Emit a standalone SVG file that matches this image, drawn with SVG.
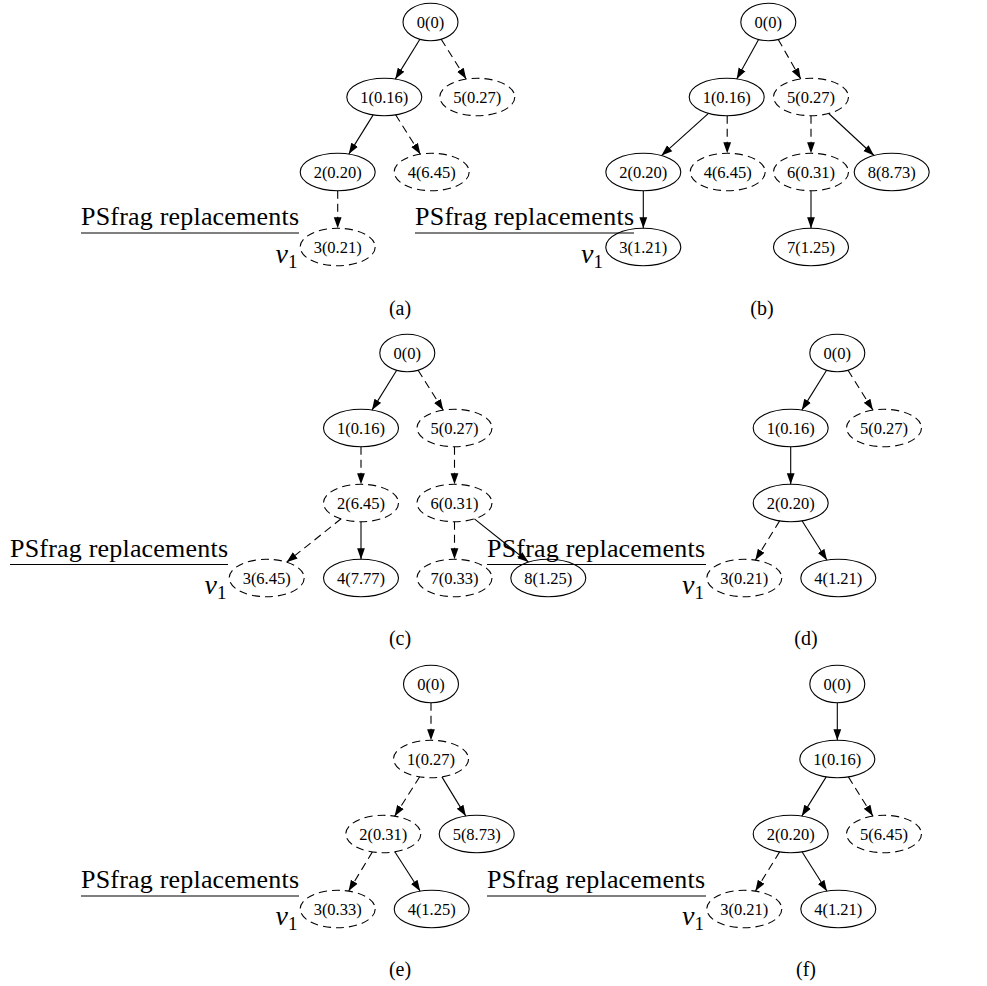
<svg xmlns="http://www.w3.org/2000/svg" width="987" height="986" viewBox="0 0 987 986">
  <defs>
    <marker id="ah" markerUnits="userSpaceOnUse" markerWidth="12" markerHeight="9" refX="11" refY="4.5" orient="auto">
      <path d="M0,0.6 L11,4.5 L0,8.4 z" fill="#000"/>
    </marker>
  </defs>
  <style>
    .n ellipse { fill: none; stroke: #000; stroke-width: 1.1; }
    .n.d ellipse { stroke-dasharray: 8 5; }
    .n text { font-family: "Liberation Serif", "Times New Roman", serif; font-size: 16.5px; text-anchor: middle; fill: #000; }
    .e line { stroke: #000; stroke-width: 1.1; marker-end: url(#ah); }
    .e line.d { stroke-dasharray: 8 5; }
    .ps { font-family: "Liberation Serif", "Times New Roman", serif; font-size: 26px; fill: #000; }
    .rule { stroke: #000; stroke-width: 1; }
    .v { font-family: "Liberation Serif", "Times New Roman", serif; font-style: italic; font-size: 28px; text-anchor: end; fill: #000; }
    .v tspan { font-style: normal; font-size: 19px; }
    .cap { font-family: "Liberation Serif", "Times New Roman", serif; font-size: 20px; text-anchor: middle; fill: #000; }
  </style>
  <rect width="987" height="986" fill="#fff"/>

  <!-- connectors -->
  <g id="connectors" class="e">
    <!-- (a) -->
    <line x1="419.9" y1="39.3" x2="395.3" y2="79.1"/>
    <line class="d" x1="441.2" y1="39.2" x2="466.2" y2="79.1"/>
    <line x1="373.2" y1="114.9" x2="348.8" y2="154.1"/>
    <line class="d" x1="395.6" y1="114.8" x2="420.4" y2="154.2"/>
    <line class="d" x1="337.7" y1="190.7" x2="337.7" y2="228.3"/>
    <!-- (b) -->
    <line x1="758.6" y1="39.5" x2="736.7" y2="79.0"/>
    <line class="d" x1="778.2" y1="39.4" x2="800.8" y2="79.0"/>
    <line x1="708.5" y1="113.4" x2="661.5" y2="155.6"/>
    <line class="d" x1="727.2" y1="115.7" x2="727.2" y2="153.3"/>
    <line class="d" x1="811" y1="115.7" x2="811" y2="153.3"/>
    <line x1="828.7" y1="113.5" x2="874.0" y2="155.5"/>
    <line x1="643.3" y1="190.7" x2="643.3" y2="228.3"/>
    <line x1="811" y1="190.7" x2="811" y2="228.3"/>
    <!-- (c) -->
    <line x1="396.7" y1="370.2" x2="372.0" y2="410.1"/>
    <line class="d" x1="418.1" y1="370.2" x2="443.3" y2="410.2"/>
    <line class="d" x1="361" y1="446.7" x2="361" y2="484.3"/>
    <line class="d" x1="454.5" y1="446.7" x2="454.5" y2="484.3"/>
    <line class="d" x1="341.1" y1="518.8" x2="286.6" y2="562.2"/>
    <line x1="361" y1="521.7" x2="361" y2="559.3"/>
    <line class="d" x1="454.5" y1="521.7" x2="454.5" y2="559.3"/>
    <line x1="474.4" y1="518.9" x2="528.5" y2="562.1"/>
    <!-- (d) -->
    <line x1="826.6" y1="370.2" x2="801.8" y2="410.1"/>
    <line class="d" x1="848.0" y1="370.2" x2="872.9" y2="410.1"/>
    <line x1="790.7" y1="446.7" x2="790.7" y2="484.3"/>
    <line class="d" x1="779.6" y1="520.9" x2="755.4" y2="560.1"/>
    <line x1="802.0" y1="520.8" x2="827.0" y2="560.2"/>
    <!-- (e) -->
    <line class="d" x1="431" y1="702.7" x2="431" y2="740.3"/>
    <line class="d" x1="419.7" y1="776.8" x2="394.6" y2="816.2"/>
    <line x1="441.9" y1="776.9" x2="465.8" y2="816.1"/>
    <line class="d" x1="372.4" y1="851.9" x2="348.6" y2="891.1"/>
    <line x1="394.8" y1="851.8" x2="420.2" y2="891.2"/>
    <!-- (f) -->
    <line x1="837.3" y1="702.7" x2="837.3" y2="740.3"/>
    <line x1="826.2" y1="776.9" x2="801.8" y2="816.1"/>
    <line class="d" x1="848.4" y1="776.9" x2="872.9" y2="816.1"/>
    <line class="d" x1="779.6" y1="851.9" x2="755.4" y2="891.1"/>
    <line x1="802.0" y1="851.8" x2="827.0" y2="891.2"/>
  </g>

  <!-- tree (a) -->
  <g id="a-n0" class="n"><ellipse cx="430.5" cy="22" rx="27.5" ry="18.7"/><text x="430.5" y="27.6">0(0)</text></g>
  <g id="a-n1" class="n"><ellipse cx="384.3" cy="97" rx="37.5" ry="18.7"/><text x="384.3" y="102.6">1(0.16)</text></g>
  <g id="a-n5" class="n d"><ellipse cx="477.3" cy="97" rx="37.5" ry="18.7"/><text x="477.3" y="102.6">5(0.27)</text></g>
  <g id="a-n2" class="n"><ellipse cx="337.7" cy="172" rx="37.5" ry="18.7"/><text x="337.7" y="177.6">2(0.20)</text></g>
  <g id="a-n4" class="n d"><ellipse cx="431.7" cy="172" rx="37.5" ry="18.7"/><text x="431.7" y="177.6">4(6.45)</text></g>
  <g id="a-n3" class="n d"><ellipse cx="337.7" cy="247" rx="37.5" ry="18.7"/><text x="337.7" y="252.6">3(0.21)</text></g>

  <!-- tree (b) -->
  <g id="b-n0" class="n"><ellipse cx="768.3" cy="22" rx="27.5" ry="18.7"/><text x="768.3" y="27.6">0(0)</text></g>
  <g id="b-n1" class="n"><ellipse cx="726.7" cy="97" rx="37.5" ry="18.7"/><text x="726.7" y="102.6">1(0.16)</text></g>
  <g id="b-n5" class="n d"><ellipse cx="811" cy="97" rx="37.5" ry="18.7"/><text x="811" y="102.6">5(0.27)</text></g>
  <g id="b-n2" class="n"><ellipse cx="643.3" cy="172" rx="37.5" ry="18.7"/><text x="643.3" y="177.6">2(0.20)</text></g>
  <g id="b-n4" class="n d"><ellipse cx="727.7" cy="172" rx="37.5" ry="18.7"/><text x="727.7" y="177.6">4(6.45)</text></g>
  <g id="b-n6" class="n d"><ellipse cx="811" cy="172" rx="37.5" ry="18.7"/><text x="811" y="177.6">6(0.31)</text></g>
  <g id="b-n8" class="n"><ellipse cx="891.7" cy="172" rx="37.5" ry="18.7"/><text x="891.7" y="177.6">8(8.73)</text></g>
  <g id="b-n3" class="n"><ellipse cx="643.3" cy="247" rx="37.5" ry="18.7"/><text x="643.3" y="252.6">3(1.21)</text></g>
  <g id="b-n7" class="n"><ellipse cx="811" cy="247" rx="37.5" ry="18.7"/><text x="811" y="252.6">7(1.25)</text></g>

  <!-- tree (c) -->
  <g id="c-n0" class="n"><ellipse cx="407.3" cy="353" rx="27.5" ry="18.7"/><text x="407.3" y="358.6">0(0)</text></g>
  <g id="c-n1" class="n"><ellipse cx="361" cy="428" rx="37.5" ry="18.7"/><text x="361" y="433.6">1(0.16)</text></g>
  <g id="c-n5" class="n d"><ellipse cx="454.5" cy="428" rx="37.5" ry="18.7"/><text x="454.5" y="433.6">5(0.27)</text></g>
  <g id="c-n2" class="n d"><ellipse cx="361" cy="503" rx="37.5" ry="18.7"/><text x="361" y="508.6">2(6.45)</text></g>
  <g id="c-n6" class="n d"><ellipse cx="454.5" cy="503" rx="37.5" ry="18.7"/><text x="454.5" y="508.6">6(0.31)</text></g>
  <g id="c-n3" class="n d"><ellipse cx="266.7" cy="578" rx="37.5" ry="18.7"/><text x="266.7" y="583.6">3(6.45)</text></g>
  <g id="c-n4" class="n"><ellipse cx="361" cy="578" rx="37.5" ry="18.7"/><text x="361" y="583.6">4(7.77)</text></g>
  <g id="c-n7" class="n d"><ellipse cx="454.5" cy="578" rx="37.5" ry="18.7"/><text x="454.5" y="583.6">7(0.33)</text></g>
  <g id="c-n8" class="n"><ellipse cx="548.3" cy="578" rx="37.5" ry="18.7"/><text x="548.3" y="583.6">8(1.25)</text></g>

  <!-- tree (d) -->
  <g id="d-n0" class="n"><ellipse cx="837.3" cy="353" rx="27.5" ry="18.7"/><text x="837.3" y="358.6">0(0)</text></g>
  <g id="d-n1" class="n"><ellipse cx="790.7" cy="428" rx="37.5" ry="18.7"/><text x="790.7" y="433.6">1(0.16)</text></g>
  <g id="d-n5" class="n d"><ellipse cx="884" cy="428" rx="37.5" ry="18.7"/><text x="884" y="433.6">5(0.27)</text></g>
  <g id="d-n2" class="n"><ellipse cx="790.7" cy="503" rx="37.5" ry="18.7"/><text x="790.7" y="508.6">2(0.20)</text></g>
  <g id="d-n3" class="n d"><ellipse cx="744.3" cy="578" rx="37.5" ry="18.7"/><text x="744.3" y="583.6">3(0.21)</text></g>
  <g id="d-n4" class="n"><ellipse cx="838.3" cy="578" rx="37.5" ry="18.7"/><text x="838.3" y="583.6">4(1.21)</text></g>

  <!-- tree (e) -->
  <g id="e-n0" class="n"><ellipse cx="431" cy="684" rx="27.5" ry="18.7"/><text x="431" y="689.6">0(0)</text></g>
  <g id="e-n1" class="n d"><ellipse cx="431" cy="759" rx="37.5" ry="18.7"/><text x="431" y="764.6">1(0.27)</text></g>
  <g id="e-n2" class="n d"><ellipse cx="383.3" cy="834" rx="37.5" ry="18.7"/><text x="383.3" y="839.6">2(0.31)</text></g>
  <g id="e-n5" class="n"><ellipse cx="476.7" cy="834" rx="37.5" ry="18.7"/><text x="476.7" y="839.6">5(8.73)</text></g>
  <g id="e-n3" class="n d"><ellipse cx="337.7" cy="909" rx="37.5" ry="18.7"/><text x="337.7" y="914.6">3(0.33)</text></g>
  <g id="e-n4" class="n"><ellipse cx="431.7" cy="909" rx="37.5" ry="18.7"/><text x="431.7" y="914.6">4(1.25)</text></g>

  <!-- tree (f) -->
  <g id="f-n0" class="n"><ellipse cx="837.3" cy="684" rx="27.5" ry="18.7"/><text x="837.3" y="689.6">0(0)</text></g>
  <g id="f-n1" class="n"><ellipse cx="837.3" cy="759" rx="37.5" ry="18.7"/><text x="837.3" y="764.6">1(0.16)</text></g>
  <g id="f-n2" class="n"><ellipse cx="790.7" cy="834" rx="37.5" ry="18.7"/><text x="790.7" y="839.6">2(0.20)</text></g>
  <g id="f-n5" class="n d"><ellipse cx="884" cy="834" rx="37.5" ry="18.7"/><text x="884" y="839.6">5(6.45)</text></g>
  <g id="f-n3" class="n d"><ellipse cx="744.3" cy="909" rx="37.5" ry="18.7"/><text x="744.3" y="914.6">3(0.21)</text></g>
  <g id="f-n4" class="n"><ellipse cx="838.3" cy="909" rx="37.5" ry="18.7"/><text x="838.3" y="914.6">4(1.21)</text></g>

  <!-- psfrag headings with rules -->
  <g id="psfrag">
    <text class="ps" x="81" y="225" textLength="218" lengthAdjust="spacing">PSfrag replacements</text>
    <line class="rule" x1="81" y1="233" x2="299" y2="233"/>
    <text class="ps" x="415" y="225" textLength="219" lengthAdjust="spacing">PSfrag replacements</text>
    <line class="rule" x1="415" y1="233" x2="634" y2="233"/>
    <text class="ps" x="10" y="556.5" textLength="218" lengthAdjust="spacing">PSfrag replacements</text>
    <line class="rule" x1="10" y1="564.5" x2="228" y2="564.5"/>
    <text class="ps" x="487" y="556.5" textLength="218" lengthAdjust="spacing">PSfrag replacements</text>
    <line class="rule" x1="487" y1="564.5" x2="706" y2="564.5"/>
    <text class="ps" x="81" y="888" textLength="218" lengthAdjust="spacing">PSfrag replacements</text>
    <line class="rule" x1="81" y1="896" x2="299" y2="896"/>
    <text class="ps" x="487" y="888" textLength="218" lengthAdjust="spacing">PSfrag replacements</text>
    <line class="rule" x1="487" y1="896" x2="706" y2="896"/>
  </g>

  <!-- v1 markers -->
  <g id="v1-labels">
    <text class="v" x="297.5" y="263.3">v<tspan dy="4.4">1</tspan></text>
    <text class="v" x="603" y="263.3">v<tspan dy="4.4">1</tspan></text>
    <text class="v" x="226.5" y="594.3">v<tspan dy="4.4">1</tspan></text>
    <text class="v" x="704" y="594.3">v<tspan dy="4.4">1</tspan></text>
    <text class="v" x="297.5" y="925.3">v<tspan dy="4.4">1</tspan></text>
    <text class="v" x="704" y="925.3">v<tspan dy="4.4">1</tspan></text>
  </g>

  <!-- sub-figure captions -->
  <g id="captions">
    <text class="cap" x="400" y="315">(a)</text>
    <text class="cap" x="762" y="315">(b)</text>
    <text class="cap" x="400" y="645">(c)</text>
    <text class="cap" x="806" y="645">(d)</text>
    <text class="cap" x="400" y="976">(e)</text>
    <text class="cap" x="806" y="976">(f)</text>
  </g>
</svg>
